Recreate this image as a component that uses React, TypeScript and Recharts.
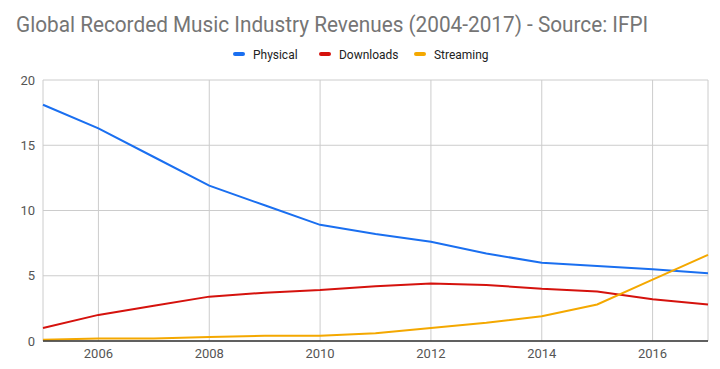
import * as React from 'react';
import { LineChart, Line, XAxis, YAxis, CartesianGrid, Legend } from 'recharts';

const years = [2005, 2006, 2007, 2008, 2009, 2010, 2011, 2012, 2013, 2014, 2015, 2016, 2017];
const physical = [18.1, 16.3, 14.1, 11.9, 10.4, 8.9, 8.2, 7.6, 6.7, 6.0, 5.75, 5.5, 5.2];
const downloads = [1.0, 2.0, 2.7, 3.4, 3.7, 3.9, 4.2, 4.4, 4.3, 4.0, 3.8, 3.2, 2.8];
const streaming = [0.1, 0.2, 0.2, 0.3, 0.4, 0.4, 0.6, 1.0, 1.4, 1.9, 2.8, 4.7, 6.6];

const seriesNames = ['Physical', 'Downloads', 'Streaming'];
const xTicks = [2006, 2008, 2010, 2012, 2014, 2016];
const yTicks = [0, 5, 10, 15, 20];

const COLORS = { physical: '#1a6ff0', downloads: '#d5120d', streaming: '#f4a800' };

const data = years.map((year, i) => ({
  year,
  Physical: physical[i],
  Downloads: downloads[i],
  Streaming: streaming[i],
}));

const FONT = 'Roboto, "Noto Sans", sans-serif';

const legendLeft = [233, 319, 414];

function LegendContent({ payload }: any) {
  const items = seriesNames.map((name) => (payload || []).find((p: any) => p.value === name)).filter(Boolean);
  return (
    <div style={{ position: 'relative', width: 720, height: 20, fontFamily: FONT, fontSize: 13, color: '#222' }}>
      {items.map((entry: any, i: number) => (
        <div key={entry.value} style={{ position: 'absolute', left: legendLeft[i], top: 0, height: 20, display: 'flex', alignItems: 'center' }}>
          <span style={{ display: 'inline-block', width: 12, height: 4, borderRadius: 2, background: entry.color, marginRight: 8 }} />
          <span style={{ display: 'inline-block', transform: 'scaleX(0.92)', transformOrigin: 'left center', whiteSpace: 'nowrap' }}>{entry.value}</span>
        </div>
      ))}
    </div>
  );
}

export default function App() {
  return (
    <div style={{ position: 'absolute', left: 0, top: 0, width: 720, height: 369, background: '#fff' }}>
      <div
        style={{
          position: 'absolute',
          left: 16,
          top: 12,
          fontFamily: FONT,
          fontSize: 22,
          color: '#757575',
          whiteSpace: 'nowrap',
          transform: 'scaleX(0.943)',
          transformOrigin: 'left top',
        }}
      >
        Global Recorded Music Industry Revenues (2004-2017) - Source: IFPI
      </div>
      <LineChart width={720} height={369} data={data} margin={{ top: 60, right: 12, bottom: 0, left: 0 }}>
        <CartesianGrid stroke="#cccccc" vertical horizontal />
        <XAxis
          dataKey="year"
          type="number"
          domain={[2005, 2017]}
          ticks={xTicks}
          height={28}
          tickLine={false}
          axisLine={{ stroke: '#333', strokeWidth: 1.5 }}
          tick={{ fill: '#555', fontSize: 13, fontFamily: FONT }}
        />
        <YAxis
          type="number"
          domain={[0, 20]}
          ticks={yTicks}
          width={43}
          tickLine={false}
          axisLine={false}
          tick={{ fill: '#555', fontSize: 13, fontFamily: FONT }}
        />
        <Legend
          verticalAlign="top"
          content={<LegendContent />}
          wrapperStyle={{ position: 'absolute', top: 44, left: 0, width: 720, height: 20 }}
        />
        <Line type="linear" dataKey="Physical" stroke={COLORS.physical} strokeWidth={2} dot={false} isAnimationActive={false} />
        <Line type="linear" dataKey="Downloads" stroke={COLORS.downloads} strokeWidth={2} dot={false} isAnimationActive={false} />
        <Line type="linear" dataKey="Streaming" stroke={COLORS.streaming} strokeWidth={2} dot={false} isAnimationActive={false} />
      </LineChart>
    </div>
  );
}
